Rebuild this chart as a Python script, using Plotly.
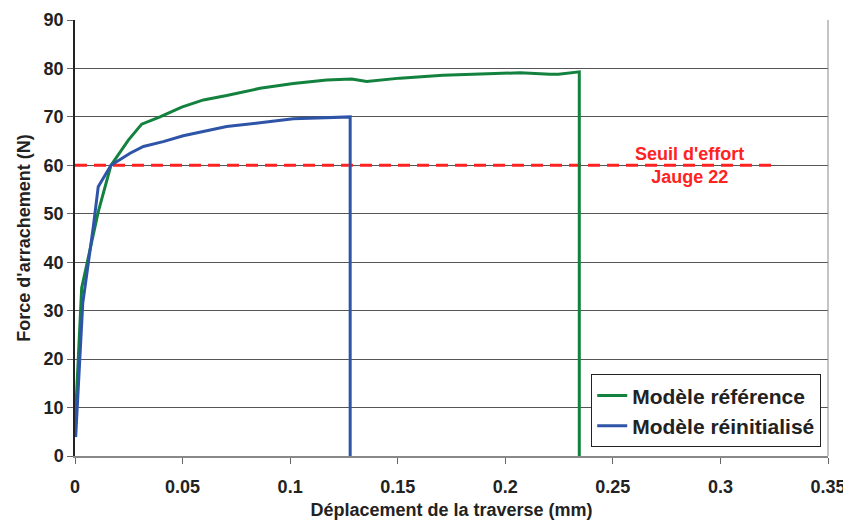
import plotly.graph_objects as go

# Green series: Modèle référence
ref_x = [0.0, 0.0031, 0.0108, 0.0167, 0.0248, 0.031, 0.0395, 0.0496, 0.0597, 0.0705,
         0.086, 0.1015, 0.117, 0.1286, 0.1356, 0.151, 0.171, 0.1976, 0.2069, 0.2208,
         0.2247, 0.2344, 0.2344]
ref_y = [6.0, 34.7, 50.4, 60.0, 65.2, 68.5, 70.0, 72.0, 73.5, 74.4,
         75.9, 76.9, 77.6, 77.8, 77.3, 78.0, 78.6, 79.0, 79.1, 78.8,
         78.8, 79.3, 0.0]

# Blue series: Modèle réinitialisé
rei_x = [0.0003, 0.0036, 0.0085, 0.0108, 0.0167, 0.0256, 0.0318, 0.041, 0.0503,
         0.0705, 0.086, 0.1015, 0.1279, 0.1279]
rei_y = [3.9, 31.5, 47.3, 55.6, 60.0, 62.5, 63.9, 64.9, 66.1,
         68.0, 68.8, 69.6, 70.0, 0.0]

threshold = 60
threshold_x = [0.0, 0.326]
threshold_label = "Seuil d'effort<br>Jauge 22"

x_ticks = [0, 0.05, 0.1, 0.15, 0.2, 0.25, 0.3, 0.35]
x_tick_text = ["0", "0.05", "0.1", "0.15", "0.2", "0.25", "0.3", "0.35"]
y_ticks = list(range(0, 91, 10))

FONT = "Liberation Sans, Arial"

fig = go.Figure()
fig.add_trace(go.Scatter(x=threshold_x, y=[threshold, threshold], mode="lines",
                         line=dict(color="#FF2222", width=3, dash="12px,7px"),
                         showlegend=False, hoverinfo="skip"))
fig.add_trace(go.Scatter(x=ref_x, y=ref_y, mode="lines", name="<b>Modèle référence</b>",
                         line=dict(color="#12823E", width=3)))
fig.add_trace(go.Scatter(x=rei_x, y=rei_y, mode="lines", name="<b>Modèle réinitialisé</b>",
                         line=dict(color="#2E54A8", width=3)))

fig.add_annotation(x=0.2855, y=threshold, text="<b>" + threshold_label + "</b>", showarrow=False,
                   font=dict(family=FONT, size=18, color="#FF2222"),
                   yanchor="middle", xanchor="center")

fig.add_shape(type="line", xref="paper", yref="paper", x0=1, x1=1, y0=0, y1=1,
              line=dict(color="#888888", width=1))

fig.update_layout(
    width=843, height=512,
    margin=dict(l=67, r=23, t=12, b=64),
    plot_bgcolor="white", paper_bgcolor="white",
    font=dict(family=FONT, size=18, color="#222222"),
    showlegend=True,
    legend=dict(x=0.991, y=0.02, xanchor="right", yanchor="bottom",
                bgcolor="white", bordercolor="#222222", borderwidth=1,
                font=dict(size=21, color="#222222"),
                tracegroupgap=0, itemwidth=30),
    xaxis=dict(range=[0, 0.35], tickvals=x_ticks, ticktext=x_tick_text,
               showgrid=False, zeroline=False, showline=True, linecolor="#888888",
               linewidth=1.5, ticks="outside", ticklen=6, tickcolor="#666666",
               automargin=False, ticklabelstandoff=8,
               tickfont=dict(size=18, family=FONT, color="#222222", weight="bold"),
               title=dict(text="<b>Déplacement de la traverse (mm)</b>",
                          font=dict(size=18), standoff=8)),
    yaxis=dict(range=[0, 90], tickvals=y_ticks, showgrid=True, gridcolor="#555555",
               gridwidth=1, zeroline=False, showline=True, linecolor="#222222",
               linewidth=1.5, ticks="outside", ticklen=6, tickcolor="#666666",
               automargin=False,
               tickfont=dict(size=18, family=FONT, color="#222222", weight="bold"),
               title=dict(text="<b>Force d'arrachement (N)</b>",
                          font=dict(size=18), standoff=8)),
)

fig.write_html("out.html")
